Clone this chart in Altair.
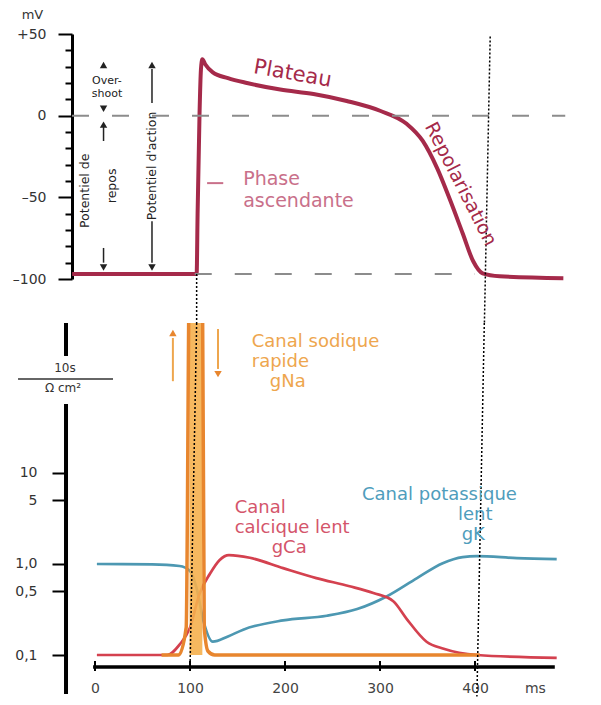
import altair as alt
import pandas as pd

FONT = "DejaVu Sans"

# ---------------- data ----------------
# Top panel: membrane potential (mV) versus time (ms)
ap_t = [-24, 107, 108, 110, 111.5, 113, 116, 124, 140, 160, 195, 230, 265, 300, 328, 345, 360, 374, 387, 398, 408, 426, 493]
ap_v = [-97, -97, -60, 0, 28, 34.5, 31.5, 26.5, 23, 20, 16, 13.3, 9, 3, -5, -15.5, -32, -52, -72, -89, -96.5, -98.3, -99.5]

# Bottom panel: conductances (log scale)
na_t = [70, 88, 96, 99.5, 113, 115, 119, 126, 405]
na_g = [0.1, 0.1, 0.2, 2000, 2000, 0.2, 0.11, 0.1, 0.1]
ca_t = [2, 76, 89, 100, 110, 121, 131, 141, 163, 198, 233, 268, 293, 314, 328, 349, 367, 402, 486]
ca_g = [0.1, 0.1, 0.13, 0.2, 0.47, 0.78, 1.1, 1.25, 1.17, 0.9, 0.7, 0.57, 0.48, 0.39, 0.25, 0.14, 0.117, 0.1, 0.093]
k_t = [2, 60, 89, 100, 107, 114, 124, 140, 156, 198, 244, 276, 307, 339, 366, 387, 402, 444, 486]
k_g = [1.0, 0.99, 0.95, 0.84, 0.54, 0.24, 0.14, 0.16, 0.19, 0.24, 0.27, 0.32, 0.44, 0.70, 1.02, 1.19, 1.22, 1.16, 1.13]

mv_ticks = list(range(-100, 51, 10))
mv_major = {50: "+50", 0: "0", -50: "–50", -100: "–100"}
g_ticks = [0.1, 0.5, 1, 5, 10]
g_labels = ["0,1", "0,5", "1,0", "5", "10"]
t_ticks = [0, 100, 200, 300, 400]
ms_pos = 463

# ---------------- styles ----------------
AP_COL = "#a52a4a"
PINK = "#c9708a"
OR_LINE = "#e8862e"
OR_FILL = "#f5b04e"
OR_TXT = "#eea64e"
RED = "#d4414f"
RED_TXT = "#d4556b"
TEAL = "#4d98b2"
TEAL_TXT = "#4f9dbc"
INK = "#222222"

XS = alt.Scale(domain=[-24.2, 500], nice=False, zero=False)
YT = alt.Scale(domain=[-100, 50], nice=False, zero=False)
YB = alt.Scale(type="log", domain=[0.0337, 444.6], nice=False)

mv_expr = " : ".join([f"datum.value == {k} ? '{v}'" for k, v in mv_major.items()]) + " : ''"
yaxis_top = alt.Axis(
    values=mv_ticks,
    tickSize={"condition": {"test": "datum.value % 50 === 0", "value": 14}, "value": 7},
    labelExpr=mv_expr,
    domainWidth=3, domainColor="black", tickColor="black", tickWidth=2,
    labelFontSize=14, labelFont=FONT, labelColor="#333", labelPadding=12,
    title=None, grid=False,
)
g_expr = " : ".join([f"datum.value == {v} ? '{l}'" for v, l in zip(g_ticks, g_labels)]) + " : ''"
yaxis_bot = alt.Axis(
    values=g_ticks, labelExpr=g_expr, tickSize=14, tickWidth=2, tickColor="black",
    domain=False, offset=6, labelPadding=15, labelFontSize=14, labelFont=FONT, labelColor="#333",
    grid=False, title=None,
)
xaxis_bot = alt.Axis(
    values=t_ticks + [ms_pos], labelExpr=f"datum.value == {ms_pos} ? 'ms' : datum.label",
    ticks=False, domain=False, offset=-31, labelPadding=14, labelFontSize=14, labelFont=FONT,
    labelColor="#444", grid=False, title=None, labelFlush=False,
)


def xt(f="t"):
    return alt.X(f"{f}:Q", scale=XS, axis=None)


def yt(f="v"):
    return alt.Y(f"{f}:Q", scale=YT, axis=yaxis_top)


def xb(f="t"):
    return alt.X(f"{f}:Q", scale=XS, axis=xaxis_bot)


def yb(f="g"):
    return alt.Y(f"{f}:Q", scale=YB, axis=yaxis_bot)


# ---------------- top panel ----------------
ap_df = pd.DataFrame({"t": ap_t, "v": ap_v})
ap_line = alt.Chart(ap_df).mark_line(color=AP_COL, strokeWidth=4, interpolate="monotone").encode(
    x=xt(), y=yt()
)

dash_df = pd.DataFrame({"t": [-24.2, 105], "t2": [495, 400], "v": [0, -97]})
dashes = alt.Chart(dash_df).mark_rule(color="#8c8c8c", strokeWidth=2, strokeDash=[17, 23]).encode(
    x=xt(), x2="t2:Q", y=yt()
)

dot_top_df = pd.DataFrame({"t": [107, 416], "t2": [107, 409.9], "v": [-97, 48.5], "v2": [-127, -127]})
dots_top = alt.Chart(dot_top_df).mark_rule(color="black", strokeWidth=1.5, strokeDash=[2, 2], clip=False).encode(
    x=xt(), x2="t2:Q", y=yt(), y2="v2:Q"
)

plateau = alt.Chart(pd.DataFrame({"t": [208], "v": [25.5], "s": ["Plateau"]})).mark_text(
    font=FONT, fontSize=21, color=AP_COL, angle=10).encode(x=xt(), y=yt(), text="s:N")
repol = alt.Chart(pd.DataFrame({"t": [385], "v": [-41.8], "s": ["Repolarisation"]})).mark_text(
    font=FONT, fontSize=19, color=AP_COL, angle=63).encode(x=xt(), y=yt(), text="s:N")
phase = alt.Chart(pd.DataFrame({"t": [156, 156], "v": [-38.5, -52], "s": ["Phase", "ascendante"]})).mark_text(
    font=FONT, fontSize=19, color=PINK, align="left").encode(x=xt(), y=yt(), text="s:N")
phase_tick = alt.Chart(pd.DataFrame({"t": [118], "t2": [135], "v": [-41.3]})).mark_rule(
    color=PINK, strokeWidth=2).encode(x=xt(), x2="t2:Q", y=yt())

over = alt.Chart(pd.DataFrame({"t": [12.6, 12.6], "v": [21.4, 13.1], "s": ["Over-", "shoot"]})).mark_text(
    font=FONT, fontSize=11, color=INK).encode(x=xt(), y=yt(), text="s:N")
pots = alt.Chart(pd.DataFrame({"t": [-10.5, 18, 60], "v": [-46, -43, -30.8],
                               "s": ["Potentiel de", "repos", "Potentiel d'action"]})).mark_text(
    font=FONT, fontSize=12.5, color=INK, angle=270).encode(x=xt(), y=yt(), text="s:N")

shaft_df = pd.DataFrame({"t": [9, 9, 60, 60], "v": [-5.7, -81, 28.6, -64.6], "v2": [-15.5, -90, 7.8, -90]})
shafts = alt.Chart(shaft_df).mark_rule(color=INK, strokeWidth=1.5).encode(x=xt(), y=yt(), y2="v2:Q")
head_up = alt.Chart(pd.DataFrame({"t": [9, 9, 60], "v": [31, -5.5, 31]})).mark_point(
    shape="triangle-up", filled=True, size=55, color=INK, opacity=1).encode(x=xt(), y=yt())
head_dn = alt.Chart(pd.DataFrame({"t": [9, 9, 60], "v": [4.2, -93, -93]})).mark_point(
    shape="triangle-down", filled=True, size=55, color=INK, opacity=1).encode(x=xt(), y=yt())

mv_title = alt.Chart(pd.DataFrame({"t": [-65.8], "v": [61.7], "s": ["mV"]})).mark_text(
    font=FONT, fontSize=13, color="#333", clip=False).encode(x=xt(), y=yt(), text="s:N")

top = alt.layer(
    ap_line, dashes, dots_top, plateau, repol, phase, phase_tick, over, pots, shafts, head_up, head_dn, mv_title
).properties(width=498, height=245)

# ---------------- bottom panel ----------------
k_df = pd.DataFrame({"t": k_t, "g": k_g})
k_line = alt.Chart(k_df).mark_line(color=TEAL, strokeWidth=2.7, interpolate="monotone", clip=True).encode(
    x=xb(), y=yb()
)
ca_df = pd.DataFrame({"t": ca_t, "g": ca_g})
ca_line = alt.Chart(ca_df).mark_line(color=RED, strokeWidth=2.7, interpolate="monotone", clip=True).encode(
    x=xb(), y=yb()
)
na_df = pd.DataFrame({"t": na_t, "g": na_g})
na_fill = alt.Chart(pd.DataFrame({"t": [na_t[3], na_t[4]], "g": [2000, 2000], "g2": [0.1, 0.1]})).mark_area(
    color=OR_FILL, opacity=0.9, clip=True).encode(x=xb(), y=yb(), y2="g2:Q")
na_line = alt.Chart(na_df).mark_line(color=OR_LINE, strokeWidth=3.5, interpolate="monotone", clip=True).encode(
    x=xb(), y=yb()
)

dot_bot_df = pd.DataFrame({"t": [107, 409.8], "t2": [100, 402], "g": [444.6, 444.6], "g2": [0.068, 0.035]})
dots_bot = alt.Chart(dot_bot_df).mark_rule(color="black", strokeWidth=1.5, strokeDash=[2, 2], clip=False).encode(
    x=xb(), x2="t2:Q", y=yb(), y2="g2:Q"
)

or_shaft = alt.Chart(pd.DataFrame({"t": [82, 129.5], "g": [102, 382], "g2": [304, 139]})).mark_rule(
    color=OR_TXT, strokeWidth=2).encode(x=xb(), y=yb(), y2="g2:Q")
or_up = alt.Chart(pd.DataFrame({"t": [82], "g": [345]})).mark_point(
    shape="triangle-up", filled=True, size=55, color=OR_LINE, opacity=1).encode(x=xb(), y=yb())
or_dn = alt.Chart(pd.DataFrame({"t": [129.5], "g": [122]})).mark_point(
    shape="triangle-down", filled=True, size=55, color=OR_LINE, opacity=1).encode(x=xb(), y=yb())


def labels(rows, color):
    df = pd.DataFrame(rows, columns=["s", "t", "g"])
    return alt.Chart(df).mark_text(font=FONT, fontSize=18, color=color, align="left").encode(
        x=xb(), y=yb(), text="s:N")


# label rows: (text, time, conductance position)
na_txt = labels([("Canal sodique", 165, 275), ("rapide", 165, 166), ("gNa", 184, 100)], OR_TXT)
ca_txt = labels([("Canal", 147, 4.1), ("calcique lent", 147, 2.49), ("gCa", 186, 1.5)], RED_TXT)
k_txt = labels([("Canal potassique", 281, 5.7), ("lent", 382, 3.45), ("gK", 386, 2.08)], TEAL_TXT)

xline = alt.Chart(pd.DataFrame({"t": [-2], "t2": [484], "g": [0.0738]})).mark_rule(
    color="black", strokeWidth=3.5).encode(x=xb(), x2="t2:Q", y=yb())
xticks = alt.Chart(pd.DataFrame({"t": t_ticks, "g": [0.0667] * 5, "g2": [0.0859] * 5})).mark_rule(
    color="black", strokeWidth=2).encode(x=xb(), y=yb(), y2="g2:Q")
yseg = alt.Chart(pd.DataFrame({"t": [-30.5, -30.5], "g": [444.6, 57.3], "g2": [193, 0.0373]})).mark_rule(
    color="black", strokeWidth=4, clip=False).encode(x=xb(), y=yb(), y2="g2:Q")
frac = alt.Chart(pd.DataFrame({"t": [-81], "t2": [19], "g": [108]})).mark_rule(
    color="#333", strokeWidth=1.5, clip=False).encode(x=xb(), x2="t2:Q", y=yb())
unit = alt.Chart(pd.DataFrame({"t": [-31.6, -33.7], "g": [142.5, 86], "s": ["10s", "Ω cm²"]})).mark_text(
    font=FONT, fontSize=12, color="#333", clip=False).encode(x=xb(), y=yb(), text="s:N")

bottom = alt.layer(
    k_line, ca_line, na_fill, na_line, dots_bot, or_shaft, or_up, or_dn,
    na_txt, ca_txt, k_txt, xline, xticks, yseg, frac, unit
).properties(width=498, height=375)

chart = alt.vconcat(top, bottom, spacing=44, bounds="flush").properties(
    padding={"left": 4, "top": 0, "right": 0, "bottom": 0}, background="white"
).configure_view(stroke=None)

chart.save("out.html", embed_options={"renderer": "svg", "actions": False})
